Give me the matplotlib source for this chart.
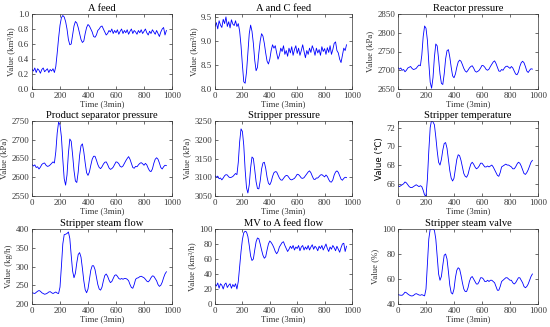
#!/usr/bin/env python
# Tennessee Eastman style process variables, 3x3 grid
import numpy as np
import matplotlib
matplotlib.use('Agg')
import matplotlib.pyplot as plt

plt.rcParams['font.family'] = ['Liberation Serif', 'DejaVu Serif']
plt.rcParams['font.size'] = 6.3

# sampled every 10 steps, t = 0..960
a_feed = [0.26, 0.24, 0.28, 0.22, 0.27, 0.25, 0.21, 0.26, 0.28, 0.23, 0.25, 0.27, 0.22, 0.26, 0.24, 0.27, 0.22,
          0.30, 0.48, 0.68, 0.85, 0.95, 0.98, 0.96, 0.90, 0.80, 0.66, 0.59, 0.60, 0.72, 0.84, 0.90, 0.88, 0.82,
          0.74, 0.66, 0.62, 0.64, 0.74, 0.82, 0.86, 0.84, 0.80, 0.76, 0.70, 0.69, 0.72, 0.78, 0.80, 0.83, 0.84,
          0.80, 0.76, 0.72, 0.74, 0.78, 0.76, 0.80, 0.74, 0.78, 0.75, 0.79, 0.73, 0.77, 0.80, 0.74, 0.78, 0.75,
          0.79, 0.73, 0.77, 0.80, 0.74, 0.78, 0.76, 0.73, 0.78, 0.75, 0.79, 0.74, 0.77, 0.80, 0.75, 0.72, 0.77,
          0.74, 0.79, 0.76, 0.73, 0.78, 0.74, 0.70, 0.76, 0.80, 0.82, 0.72, 0.78]
ac_feed = [9.30, 9.38, 9.25, 9.42, 9.33, 9.28, 9.45, 9.36, 9.50, 9.30, 9.40, 9.27, 9.44, 9.35, 9.32, 9.42, 9.30, 9.36,
           9.20, 8.90, 8.50, 8.15, 8.12, 8.35, 8.75, 9.15, 9.33, 9.20, 8.95, 8.60, 8.38, 8.45, 8.75, 9.00, 9.15,
           9.10, 8.95, 8.75, 8.58, 8.52, 8.62, 8.80, 8.92, 8.85, 8.90, 8.75, 8.62, 8.70, 8.85, 8.78, 8.90, 8.72,
           8.80, 8.68, 8.85, 8.75, 8.88, 8.70, 8.82, 8.90, 8.74, 8.85, 8.70, 8.80, 8.92, 8.78, 8.65, 8.80, 8.72,
           8.85, 8.76, 8.90, 8.82, 8.70, 8.85, 8.75, 8.82, 8.70, 8.88, 8.78, 8.84, 8.72, 8.86, 8.76, 8.90, 8.72,
           8.82, 8.95, 8.98, 8.80, 8.75, 8.62, 8.55, 8.70, 8.85, 8.80, 8.92]
reactor_p = [2707, 2703, 2706, 2700, 2702, 2696, 2700, 2706, 2708, 2710, 2705, 2702, 2703, 2705, 2710, 2714, 2712,
             2740, 2790, 2818, 2812, 2780, 2720, 2668, 2652, 2680, 2735, 2770, 2765, 2730, 2690, 2665, 2662, 2690,
             2730, 2752, 2755, 2735, 2708, 2685, 2680, 2690, 2708, 2722, 2727, 2724, 2715, 2705, 2698, 2695, 2700,
             2706, 2710, 2712, 2706, 2698, 2695, 2697, 2700, 2706, 2713, 2712, 2708, 2702, 2700, 2703, 2710, 2716,
             2722, 2725, 2718, 2708, 2698, 2697, 2702, 2700, 2706, 2710, 2711, 2708, 2705, 2710, 2706, 2698, 2690,
             2688, 2695, 2710, 2720, 2724, 2720, 2710, 2698, 2694, 2700, 2704, 2703]
sep_p = [2634, 2630, 2633, 2626, 2628, 2622, 2627, 2634, 2637, 2638, 2632, 2629, 2630, 2633, 2637, 2641, 2638,
         2668, 2718, 2747, 2740, 2708, 2648, 2596, 2579, 2606, 2664, 2702, 2696, 2660, 2618, 2590, 2586, 2614,
         2658, 2684, 2689, 2668, 2638, 2612, 2605, 2614, 2632, 2648, 2656, 2656, 2646, 2634, 2626, 2623, 2628,
         2635, 2640, 2641, 2634, 2625, 2621, 2623, 2627, 2634, 2641, 2640, 2636, 2629, 2627, 2630, 2637, 2644,
         2650, 2655, 2648, 2637, 2626, 2624, 2629, 2628, 2633, 2637, 2639, 2636, 2632, 2637, 2633, 2624, 2617,
         2615, 2622, 2637, 2648, 2652, 2648, 2638, 2626, 2622, 2628, 2632, 2631]
stripper_p = [3104, 3100, 3103, 3096, 3098, 3093, 3098, 3104, 3107, 3106, 3101, 3099, 3100, 3102, 3106, 3110, 3107,
              3140, 3195, 3229, 3222, 3185, 3120, 3072, 3058, 3080, 3125, 3154, 3150, 3120, 3088, 3070, 3069, 3090,
              3122, 3138, 3140, 3124, 3100, 3084, 3080, 3088, 3102, 3112, 3115, 3114, 3106, 3098, 3093, 3092, 3097,
              3102, 3105, 3104, 3099, 3094, 3093, 3095, 3097, 3102, 3108, 3107, 3103, 3098, 3097, 3099, 3104, 3109,
              3114, 3117, 3112, 3103, 3095, 3094, 3098, 3098, 3102, 3106, 3107, 3104, 3101, 3106, 3102, 3094, 3088,
              3087, 3093, 3106, 3114, 3117, 3113, 3104, 3095, 3092, 3097, 3100, 3099]
stripper_t = [65.8, 65.7, 65.8, 65.9, 66.0, 66.2, 66.1, 65.9, 65.7, 65.6, 65.6, 65.7, 65.8, 65.9, 65.8, 65.7, 65.8,
              65.7, 65.3, 64.8, 64.7, 66.5, 69.5, 72.0, 72.8, 72.6, 72.3, 71.0, 69.5, 68.3, 68.0, 68.6, 69.6, 70.3,
              70.4, 69.8, 68.6, 67.4, 66.6, 66.3, 66.6, 67.6, 68.6, 69.1, 69.0, 68.5, 67.8, 67.1, 66.8, 66.7, 67.0,
              67.6, 68.1, 68.3, 68.1, 67.8, 67.6, 67.7, 67.9, 68.2, 68.2, 68.0, 67.8, 67.8, 67.9, 67.8, 67.9, 68.0,
              67.8, 67.5, 67.2, 66.9, 66.8, 67.2, 67.8, 67.9, 68.0, 68.1, 68.0, 68.0, 67.9, 67.8, 67.6, 67.6, 67.8,
              68.1, 68.3, 68.2, 67.9, 67.5, 67.1, 67.0, 67.2, 67.5, 67.9, 68.3, 68.5]
steam_flow = [230, 229, 228, 231, 234, 236, 234, 230, 228, 226, 227, 229, 232, 233, 230, 228, 230, 232, 229, 228,
              245, 300, 360, 385, 386, 388, 392, 375, 330, 288, 270, 282, 310, 332, 337, 325, 295, 262, 238, 230,
              240, 265, 290, 302, 302, 292, 272, 252, 240, 237, 245, 262, 276, 280, 274, 264, 257, 260, 268, 276,
              278, 274, 268, 266, 268, 266, 268, 268, 266, 262, 252, 244, 242, 252, 266, 269, 270, 273, 274, 272,
              270, 266, 261, 259, 263, 270, 275, 274, 268, 262, 252, 247, 250, 258, 270, 280, 286]
mv_a_feed = [26, 24, 28, 21, 27, 25, 20, 26, 28, 22, 25, 27, 21, 26, 23, 27, 20,
             30, 50, 70, 86, 95, 97, 96, 90, 78, 64, 58, 60, 72, 83, 88, 87, 80, 72, 65, 61, 63, 72, 80, 84,
             82, 79, 75, 70, 67, 70, 76, 79, 82, 83, 78, 74, 70, 73, 77, 74, 78, 72, 76, 74, 78, 71, 76, 78,
             72, 76, 73, 78, 72, 76, 79, 73, 77, 75, 71, 77, 74, 78, 72, 76, 80, 74, 70, 76, 73, 78, 75, 71,
             77, 73, 69, 75, 80, 81, 70, 77]
steam_valve = [47.5, 47.2, 47.0, 47.0, 48.0, 49.5, 49.0, 48.0, 47.2, 46.6, 46.4, 46.8, 47.8, 48.3, 47.8, 47.2,
               47.0, 47.5, 47.0, 46.5, 52, 72, 92, 100, 100, 100, 99, 92, 78, 64, 59, 62, 71, 79, 80, 76, 66,
               55, 49, 48, 52, 61, 67, 69, 68, 63, 57, 52, 50, 50, 53, 58, 61, 62, 60, 58, 56, 56, 58, 61, 61,
               60, 58, 58, 59, 58, 59, 59, 58, 57, 54, 51, 51, 54, 58, 59, 60, 61, 61, 60, 59, 59, 57, 56, 57,
               59, 61, 61, 59, 57, 54, 53, 54, 56, 59, 62, 64]

titles = ['A feed', 'A and C feed', 'Reactor pressure',
          'Product separator pressure', 'Stripper pressure', 'Stripper temperature',
          'Stripper steam flow', 'MV to A feed flow', 'Stripper steam valve']
ylabels = ['Value (km³/h)', 'Value (km³/h)', 'Value (kPa)',
           'Value (kPa)', 'Value (kPa)', 'Value (℃)',
           'Value (kg/h)', 'Value (km³/h)', 'Value (%)']
series = [a_feed, ac_feed, reactor_p, sep_p, stripper_p, stripper_t, steam_flow, mv_a_feed, steam_valve]
ylims = [(0, 1), (8, 9.56), (2650, 2850), (2550, 2750), (3050, 3250), (64.7, 72.7),
         (200, 400), (0, 100), (40, 100)]
yticks = [[0, 0.2, 0.4, 0.6, 0.8, 1], [8, 8.5, 9, 9.5], [2650, 2700, 2750, 2800, 2850],
          [2550, 2600, 2650, 2700, 2750], [3050, 3100, 3150, 3200, 3250], [66, 68, 70, 72],
          [200, 250, 300, 350, 400], [0, 20, 40, 60, 80, 100], [40, 60, 80, 100]]

W, H = 550, 327
fig = plt.figure(figsize=(W / 100, H / 100), dpi=100)
col_x = [(32, 140), (215, 137), (398, 140)]
row_y = [(14, 75), (121, 75), (229, 75)]
grey = '#333333'

for k in range(9):
    r, c = divmod(k, 3)
    x0, w = col_x[c]
    y0, h = row_y[r]
    ax = fig.add_axes([x0 / W, 1 - (y0 + h) / H, w / W, h / H])
    vals = series[k]
    t = np.arange(len(vals)) * 10
    ax.plot(t, vals, color='#0000ff', lw=0.6)
    ax.set_xlim(0, 1000)
    ax.set_ylim(*ylims[k])
    ax.set_xticks([0, 200, 400, 600, 800, 1000])
    ax.set_yticks(yticks[k])
    ax.set_title(titles[k], pad=2, color='black')
    ax.set_xlabel('Time (3min)', labelpad=0.5, color=grey)
    if k == 5:
        ax.set_ylabel(ylabels[k], family='DejaVu Sans', fontsize=6.2, labelpad=2, color='black')
    else:
        ax.set_ylabel(ylabels[k], labelpad=2, color=grey)
    ax.tick_params(direction='in', length=2, width=0.5, pad=2, colors=grey,
                   top=True, right=True)
    for s in ax.spines.values():
        s.set_linewidth(0.5)
        s.set_color(grey)

fig.savefig('out.png', dpi=100)
